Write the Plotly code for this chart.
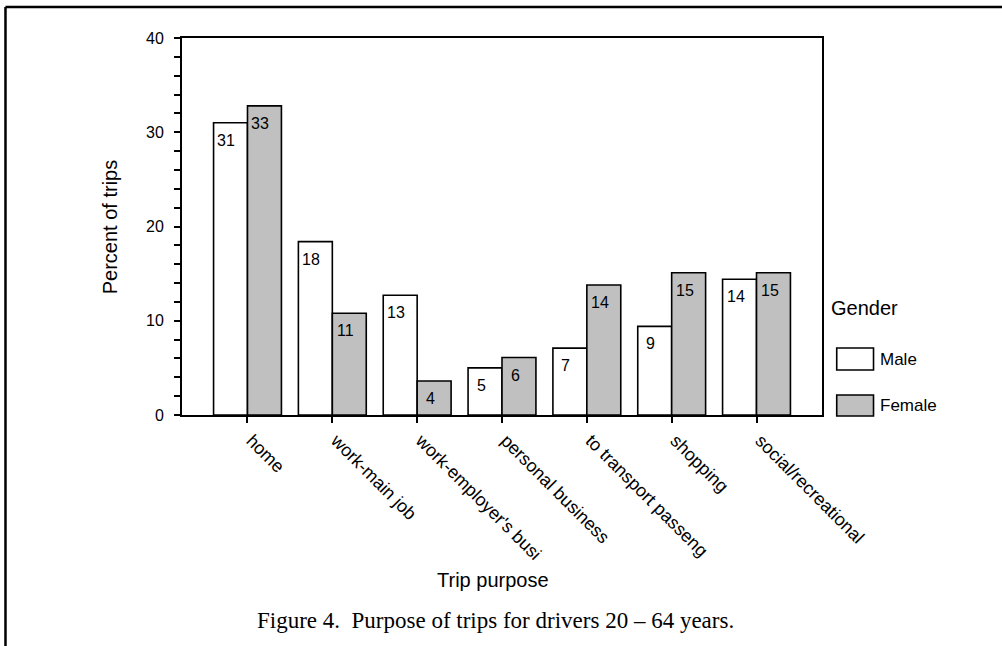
import plotly.graph_objects as go

categories = ["home", "work-main job", "work-employer's busi", "personal business",
              "to transport passeng", "shopping", "social/recreational"]
series_names = ["Male", "Female"]
male_values = [31.0, 18.4, 12.7, 5.0, 7.1, 9.4, 14.4]
female_values = [32.8, 10.8, 3.6, 6.1, 13.8, 15.1, 15.1]
male_labels = ["31", "18", "13", "5", "7", "9", "14"]
female_labels = ["33", "11", "4", "6", "14", "15", "15"]
y_ticks = [0, 10, 20, 30, 40]

SANS = "Liberation Sans, Arial, sans-serif"
SERIF = "Liberation Serif, Times New Roman, serif"
colors = ["#ffffff", "#c0c0c0"]

fig = go.Figure()
for name, vals, col in zip(series_names, [male_values, female_values], colors):
    fig.add_trace(go.Bar(
        x=categories, y=vals, name=name,
        marker=dict(color=col, line=dict(color="black", width=1.6)),
        showlegend=False,
    ))

annotations = []
for vals, labs, shift in [(male_values, male_labels, -21), (female_values, female_labels, 13)]:
    for c, v, t in zip(categories, vals, labs):
        annotations.append(dict(
            x=c, y=v, xref="x", yref="y", text=t, showarrow=False,
            xanchor="center", yanchor="top", xshift=shift, yshift=-7,
            font=dict(family=SANS, size=16, color="black"),
        ))

# axis titles and caption
annotations += [
    dict(x=-0.112, y=0.4987, xref="paper", yref="paper", text="Percent of trips",
         textangle=-90, showarrow=False, xanchor="center", yanchor="middle",
         font=dict(family=SANS, size=20, color="black")),
    dict(x=0.4867, y=-0.4377, xref="paper", yref="paper", text="Trip purpose",
         showarrow=False, xanchor="center", yanchor="middle",
         font=dict(family=SANS, size=20, color="black")),
    dict(x=0.4906, y=-0.5438, xref="paper", yref="paper",
         text="Figure 4.  Purpose of trips for drivers 20 \u2013 64 years.",
         showarrow=False, xanchor="center", yanchor="middle",
         font=dict(family=SERIF, size=23, color="black")),
    dict(x=1.0117, y=0.2838, xref="paper", yref="paper", text="Gender",
         xanchor="left", yanchor="middle", showarrow=False,
         font=dict(family=SANS, size=20, color="black")),
]

# custom legend
shapes = []
legend_rows = [(0.1194, 0.1777, 0.1459), (-0.0027, 0.053, 0.0239)]
for name, col, (y0, y1, yt) in zip(series_names, colors, legend_rows):
    shapes.append(dict(type="rect", xref="paper", yref="paper", x0=1.023, x1=1.0805,
                       y0=y0, y1=y1, fillcolor=col, line=dict(color="black", width=1.6)))
    annotations.append(dict(x=1.088, y=yt, xref="paper", yref="paper", text=name,
                            xanchor="left", yanchor="middle", showarrow=False,
                            font=dict(family=SANS, size=17, color="black")))

# outer frame
shapes.append(dict(type="line", xref="paper", yref="paper", x0=-0.2758, x1=1.29,
                   y0=1.0822, y1=1.0822, line=dict(color="black", width=2.5)))
shapes.append(dict(type="line", xref="paper", yref="paper", x0=-0.2758, x1=-0.2758,
                   y0=1.0822, y1=-0.7, line=dict(color="black", width=2.5)))

fig.update_layout(
    width=1002, height=646,
    margin=dict(l=182, r=180, t=38, b=231),
    paper_bgcolor="white", plot_bgcolor="white",
    barmode="group", bargap=0.2, bargroupgap=0,
    annotations=annotations, shapes=shapes,
    font=dict(family=SANS, size=16, color="black"),
)
fig.update_xaxes(
    range=[-0.772, 6.772], tickangle=45, ticks="outside", ticklen=6, tickwidth=1.5,
    tickcolor="black", showline=True, linecolor="black", linewidth=2, mirror=True,
    showgrid=False, ticklabelshift=4,
    tickfont=dict(family=SANS, size=18, color="black"),
)
fig.update_yaxes(
    range=[0, 40], tickvals=y_ticks, ticks="outside", ticklen=6, tickwidth=1.5,
    tickcolor="black", showline=True, linecolor="black", linewidth=2, mirror=True,
    showgrid=False, zeroline=False, ticklabelstandoff=7,
    tickfont=dict(family=SANS, size=16, color="black"),
    minor=dict(dtick=2, ticks="outside", ticklen=6, tickwidth=1.5, tickcolor="black"),
)

fig.write_html(
    "out.html",
    config={"displayModeBar": False},
    post_script="document.body.style.margin='0';document.body.style.overflow='hidden';",
)
